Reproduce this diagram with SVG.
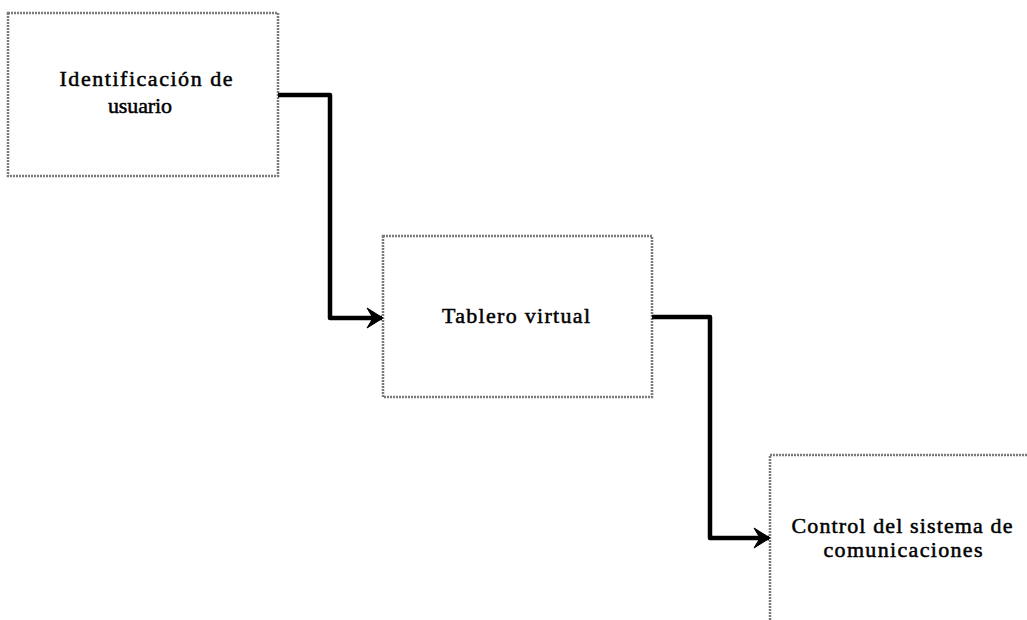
<svg xmlns="http://www.w3.org/2000/svg" width="1027" height="620" viewBox="0 0 1027 620">
<style>
.box{fill:#fff;stroke:#7a7a7a;stroke-width:2.5;stroke-dasharray:2 1}
.lbl{font-family:"Liberation Serif","Times New Roman",serif;font-size:22px;fill:#000;stroke:#000;stroke-width:0.5;text-anchor:middle}
.conn{fill:none;stroke:#000;stroke-width:4.5;stroke-linejoin:round}
</style>
<defs>
<marker id="arr" markerWidth="20" markerHeight="22" refX="16" refY="11" orient="auto" markerUnits="userSpaceOnUse">
<path d="M1,1 L17,11 L1,21 L7,11 Z" fill="#000" stroke="#000" stroke-width="1" stroke-linejoin="round"/>
</marker>
</defs>
<rect width="1027" height="620" fill="#fff"/>
<g id="node1">
<rect class="box" x="8" y="13" width="270" height="163"/>
<text class="lbl" x="146" y="86" textLength="173" lengthAdjust="spacing">Identificación de</text>
<text class="lbl" x="140" y="113" textLength="64" lengthAdjust="spacing">usuario</text>
</g>
<g id="node2">
<rect class="box" x="383" y="236" width="269" height="161"/>
<text class="lbl" x="516" y="323" textLength="148" lengthAdjust="spacing">Tablero virtual</text>
</g>
<g id="node3">
<rect class="box" x="770" y="455" width="280" height="200"/>
<text class="lbl" x="902" y="533" textLength="221" lengthAdjust="spacing">Control del sistema de</text>
<text class="lbl" x="903" y="557" textLength="159" lengthAdjust="spacing">comunicaciones</text>
</g>
<g id="connectors">
<path class="conn" d="M278,95 H330 V318 H382" marker-end="url(#arr)"/>
<path class="conn" d="M652,317 H710 V538 H769" marker-end="url(#arr)"/>
</g>
</svg>
